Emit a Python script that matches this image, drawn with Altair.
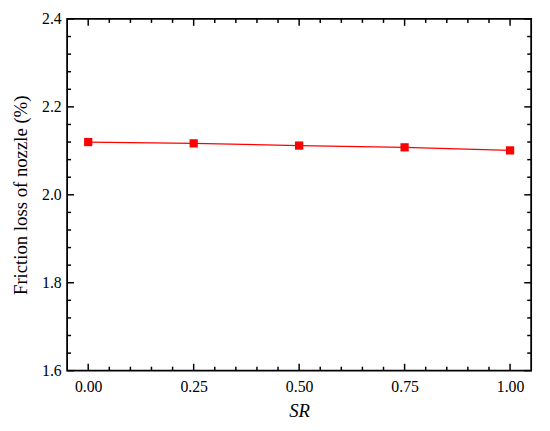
import altair as alt
import pandas as pd

# Data
sr = [0.00, 0.25, 0.50, 0.75, 1.00]
friction = [2.120, 2.117, 2.112, 2.108, 2.101]

x_major = [0.00, 0.25, 0.50, 0.75, 1.00]
x_minor = [0.05, 0.10, 0.15, 0.20, 0.30, 0.35, 0.40, 0.45, 0.55, 0.60, 0.65, 0.70,
           0.80, 0.85, 0.90, 0.95]
y_major = [1.6, 1.8, 2.0, 2.2, 2.4]
y_minor = [1.64, 1.68, 1.72, 1.76, 1.84, 1.88, 1.92, 1.96, 2.04, 2.08, 2.12, 2.16,
           2.24, 2.28, 2.32, 2.36]

W, H = 471, 357
FONT = "Liberation Serif"

df = pd.DataFrame({"SR": sr, "F": friction})
xs = alt.Scale(domain=[-0.05, 1.05], nice=False, zero=False)
ys = alt.Scale(domain=[1.6, 2.4], nice=False, zero=False)

x_axis = alt.Axis(values=x_major, format=".2f", ticks=False, tickSize=0, domain=False, grid=False,
                  labelPadding=8, title="SR", titleFontStyle="italic", titlePadding=8)
y_axis = alt.Axis(values=y_major, format=".1f", ticks=False, tickSize=0, domain=False, grid=False,
                  labelPadding=6, title="Friction loss of nozzle (%)", titlePadding=11)

base = alt.Chart(df).encode(
    x=alt.X("SR:Q", scale=xs, axis=x_axis),
    y=alt.Y("F:Q", scale=ys, axis=y_axis),
)
line = base.mark_line(color="#ff0000", strokeWidth=1.2)
pts = base.mark_point(shape="square", filled=True, color="#ff0000", size=70, opacity=1)

def xticks(vals, length):
    d = pd.DataFrame({"v": vals})
    b = alt.Chart(d).mark_rule(color="black", strokeWidth=1.5)
    bottom = b.encode(x=alt.X("v:Q", scale=xs, axis=x_axis), y=alt.value(H), y2=alt.value(H - length))
    top = b.encode(x=alt.X("v:Q", scale=xs, axis=x_axis), y=alt.value(0), y2=alt.value(length))
    return [bottom, top]

def yticks(vals, length):
    d = pd.DataFrame({"v": vals})
    b = alt.Chart(d).mark_rule(color="black", strokeWidth=1.5)
    left = b.encode(y=alt.Y("v:Q", scale=ys, axis=y_axis), x=alt.value(0), x2=alt.value(length))
    right = b.encode(y=alt.Y("v:Q", scale=ys, axis=y_axis), x=alt.value(W), x2=alt.value(W - length))
    return [left, right]

layers = [line, pts] + xticks(x_major, 7) + xticks(x_minor, 4) + yticks(y_major, 7) + yticks(y_minor, 4)

chart = alt.layer(*layers).properties(
    width=W, height=H,
    autosize=alt.AutoSizeParams(type="none"),
    padding={"left": 60, "top": 8, "right": 11, "bottom": 50},
    background="white",
).configure_view(
    stroke="black", strokeWidth=1.8
).configure_axis(
    labelFont=FONT, labelFontSize=16, labelColor="black",
    titleFont=FONT, titleFontSize=19, titleFontWeight="normal", titleColor="black",
)

chart.save("out.html", embed_options={"renderer": "svg", "actions": False})
